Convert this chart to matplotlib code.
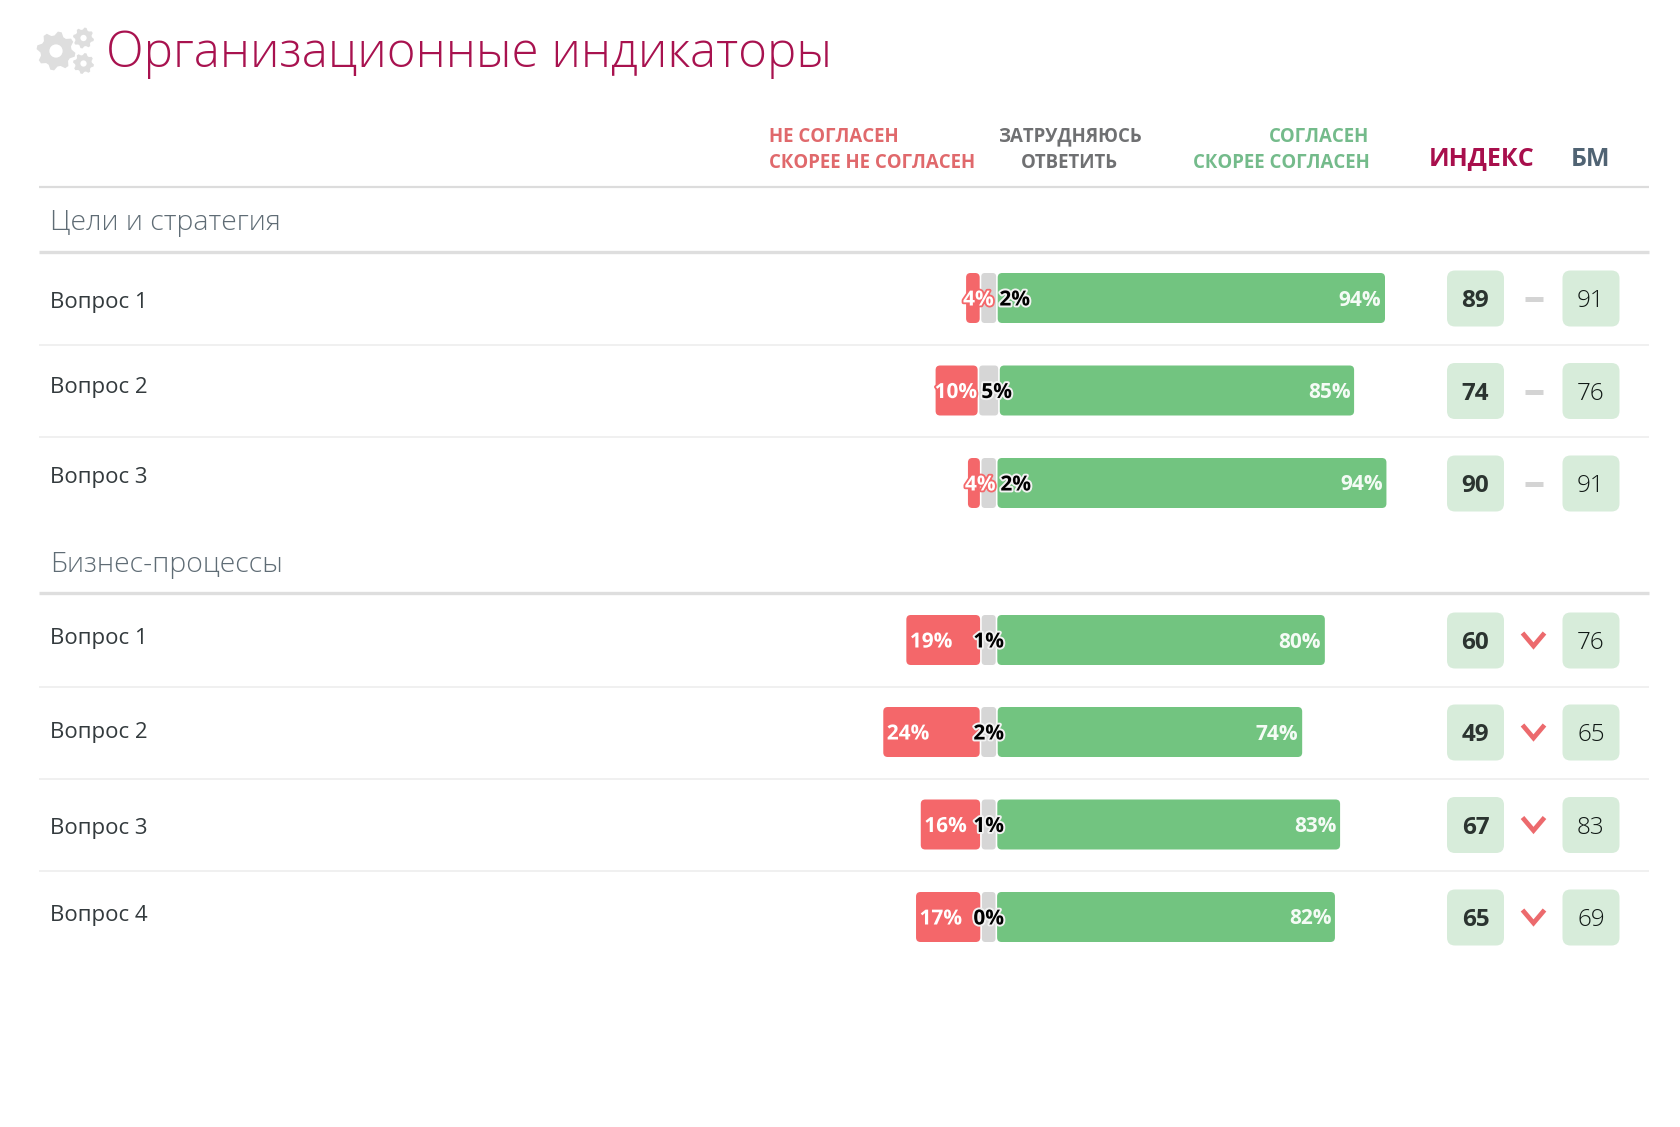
import numpy as np
import matplotlib
matplotlib.use("Agg")
import matplotlib.pyplot as plt
from matplotlib.patches import FancyBboxPatch, Polygon, Circle
import matplotlib.patheffects as pe

# ---- data ----
section_names = ["Цели и стратегия", "Бизнес-процессы"]
questions_a = ["Вопрос 1", "Вопрос 2", "Вопрос 3"]
questions_b = ["Вопрос 1", "Вопрос 2", "Вопрос 3", "Вопрос 4"]
red_a = [3.3, 10.2, 2.9]
gray_a = [3.6, 4.6, 3.5]
green_a = [94.0, 86.0, 94.4]
red_b = [17.9, 23.4, 14.4, 15.6]
gray_b = [3.4, 3.6, 3.4, 3.3]
green_b = [79.5, 73.9, 83.2, 82.0]
red_lab_a = [4, 10, 4]
gray_lab_a = [2, 5, 2]
green_lab_a = [94, 85, 94]
red_lab_b = [19, 24, 16, 17]
gray_lab_b = [1, 2, 1, 0]
green_lab_b = [80, 74, 83, 82]
index_a = [89, 74, 90]
bm_a = [91, 76, 91]
index_b = [60, 49, 67, 65]
bm_b = [76, 65, 83, 69]
trend_a = ["flat", "flat", "flat"]
trend_b = ["down", "down", "down", "down"]
title = "Организационные индикаторы"

# ---- style / layout ----
FONT = "Open Sans"
RED, GRAY, GREEN = "#f4676a", "#d6d6d6", "#72c480"
BOX = "#d7ecda"
W, H = 1680, 1127
PXP = 4.12          # pixels per percent
ZERO = 988.7        # pixel of the bar zero line
plt.rcParams["font.family"] = [FONT, "DejaVu Sans"]

fig = plt.figure(figsize=(W / 100, H / 100), dpi=100, facecolor="white")
# bar axes: x in percent, y in pixels
ax = fig.add_axes([0, 0, 1, 1])
ax.set_xlim(-ZERO / PXP, (W - ZERO) / PXP)
ax.set_ylim(H, 0)
ax.axis("off")
# layout axes: pixels in both directions
lay = fig.add_axes([0, 0, 1, 1], facecolor="none")
lay.set_xlim(0, W)
lay.set_ylim(H, 0)
lay.axis("off")


def gear(cx, cy, r, teeth, hole=0.36):
    n = teeth * 4
    ang = np.linspace(0, 2 * np.pi, n, endpoint=False) + np.pi / teeth / 4
    rad = np.where(np.arange(n) % 4 < 2, r, r * 0.8)
    lay.add_patch(Polygon(np.c_[cx + rad * np.cos(ang), cy + rad * np.sin(ang)],
                          closed=True, fc="#dedede", ec="none"))
    lay.add_patch(Circle((cx, cy), r * hole, fc="white", ec="none"))


gear(56, 51, 19.5, 8, 0.34)
gear(83.5, 38, 10.5, 8, 0.3)
gear(83.5, 63.5, 10.5, 8, 0.3)

lay.text(106, 67, title, fontsize=35.45, fontweight="light", color="#a8124f", va="baseline")

# header
hc_red, hc_gray, hc_green = "#e0696c", "#6f7072", "#74bb8b"
hk = dict(fontsize=13.4, fontweight="bold", va="center_baseline")
lay.text(769, 134, "НЕ СОГЛАСЕН", color=hc_red, **hk)
lay.text(769, 160, "СКОРЕЕ НЕ СОГЛАСЕН", color=hc_red, **hk)
lay.text(1069.5, 134, "ЗАТРУДНЯЮСЬ", color=hc_gray, ha="center", **hk)
lay.text(1069.5, 160, "ОТВЕТИТЬ", color=hc_gray, ha="center", **hk)
lay.text(1369.5, 134, "СОГЛАСЕН", color=hc_green, ha="right", **hk)
lay.text(1369.5, 160, "СКОРЕЕ СОГЛАСЕН", color=hc_green, ha="right", **hk)
lay.text(1482, 156, "ИНДЕКС", color="#a80f4c", fontsize=18, fontweight="bold",
         ha="center", va="center_baseline")
lay.text(1590.5, 156, "БМ", color="#506373", fontsize=18, fontweight="bold",
         ha="center", va="center_baseline")

X0, X1 = 39, 1649
lay.plot([X0, X1], [186.5, 186.5], color="#dcdcdc", lw=1.6, solid_capstyle="butt")


def rbar(left, width, yc, color, h=50, r=4.5):
    ax.add_patch(FancyBboxPatch((left, yc - h / 2), width, h,
                                boxstyle=f"round,pad=0,rounding_size={r / PXP}",
                                mutation_aspect=PXP, fc=color, ec="none"))


def section(name, ysec, yline, rows, labels_y, qs, red, gray, green,
            rl, gl, grl, idx, bm, trend, gray_off):
    lay.text(50.5, ysec, name, fontsize=20.4, fontweight="light", color="#5f6c75",
             va="center_baseline")
    lay.plot([X0, X1], [yline, yline], color="#dedede", lw=2.4, solid_capstyle="butt")
    for i, yc in enumerate(rows):
        if i < len(rows) - 1:
            sep = (rows[i] + rows[i + 1]) / 2 + 0.5
            lay.plot([X0, X1], [sep, sep], color="#eeeeee", lw=1.2, solid_capstyle="butt")
        lay.text(50.5, labels_y[i], qs[i], fontsize=16, color="#333a3d", va="center_baseline")
        g = gray[i]
        gap = 1.6 / PXP
        rbar(-g / 2, g, yc, GRAY, r=3.5)
        rbar(g / 2 + gap, green[i], yc, GREEN)
        rbar(-g / 2 - gap - red[i], red[i], yc, RED)
        # labels
        tk = dict(fontsize=15, fontweight="bold", va="center_baseline")
        ax.text(g / 2 + gap + green[i] - 3.6 / PXP, yc - 0.5, f"{grl[i]}%", color="#f4fbf5",
                ha="right", **tk)
        left_px = ZERO + (-g / 2 - gap - red[i]) * PXP
        if rl[i] < 5:
            offs = -3
        elif rl[i] == 10:
            offs = -1
        else:
            offs = 3.5
        lay.text(left_px + offs, yc - 0.5, f"{rl[i]}%", color="white", ha="left",
                 path_effects=[pe.withStroke(linewidth=2.6, foreground=RED)], **tk)
        lay.text(ZERO + gray_off[i], yc - 0.5, f"{gl[i]}%", color="black", ha="center",
                 path_effects=[pe.withStroke(linewidth=2.8, foreground="#f2f2f2")], **tk)
        # index boxes
        for x0, val, wt, col in ((1447, idx[i], "bold", "#2b3430"), (1562.5, bm[i], "light", "#101815")):
            lay.add_patch(FancyBboxPatch((x0, yc - 27.5), 57, 56,
                                         boxstyle="round,pad=0,rounding_size=8",
                                         fc=BOX, ec="none"))
            lay.text(x0 + 28.5, yc, str(val), fontsize=17.5, fontweight=wt, color=col,
                     ha="center", va="center_baseline")
        if trend[i] == "flat":
            lay.plot([1525, 1542.5], [yc + 1, yc + 1], color="#d4d4d4", lw=3.6, solid_capstyle="butt")
        else:
            lay.plot([1522.5, 1533.5, 1544.5], [yc - 7, yc + 6, yc - 7], color="#ec6a6d",
                     lw=3.4, solid_capstyle="butt", solid_joinstyle="miter")


section(section_names[0], 219.5, 252, [298, 390.5, 483], [300, 385, 475],
        questions_a, red_a, gray_a, green_a, red_lab_a, gray_lab_a, green_lab_a,
        index_a, bm_a, trend_a, [26, 8, 27])
section(section_names[1], 561.5, 593, [640, 732, 824.5, 917], [636, 730, 826, 913],
        questions_b, red_b, gray_b, green_b, red_lab_b, gray_lab_b, green_lab_b,
        index_b, bm_b, trend_b, [0, 0, 0, 0])

fig.savefig("out.png", dpi=100, facecolor="white")
